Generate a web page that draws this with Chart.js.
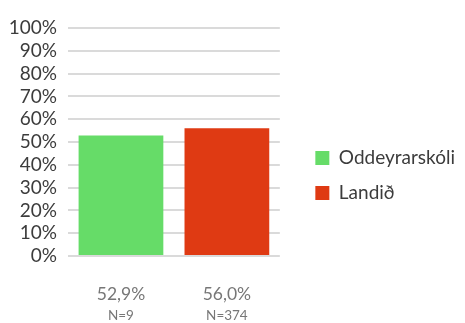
<!DOCTYPE html>
<html>
<head>
  <meta charset="utf-8">
  <title>Oddeyrarskóli</title>
  <script src="https://cdn.jsdelivr.net/npm/chart.js"></script>
  <style>
    html, body { margin: 0; padding: 0; background: #fff; }
    #wrap { width: 465px; height: 323px; position: relative; }
  </style>
</head>
<body>
  <div id="wrap"><canvas id="chart"></canvas></div>

  <script>
    const categories = ['Oddeyrarskóli', 'Landið'];
    const percentages = [52.9, 56.0];
    const counts = [9, 374];
    const colors = ['#66dc68', '#df3a13'];
    const yTicks = [0, 10, 20, 30, 40, 50, 60, 70, 80, 90, 100];

    const FONT = 'Lato, "Open Sans", sans-serif';

    // one dataset per group so the legend gets an entry for each
    const datasets = categories.map((name, i) => ({
      label: name,
      data: percentages.map((v, j) => (j === i ? v : null)),
      backgroundColor: colors[i],
      borderWidth: 0,
      skipNull: true,
      barPercentage: 0.8,
      categoryPercentage: 1.0
    }));

    const fmt = v => v.toFixed(1).replace('.', ',') + '%';

    new Chart(document.getElementById('chart'), {
      type: 'bar',
      data: { labels: categories, datasets: datasets },
      options: {
        responsive: true,
        maintainAspectRatio: false,
        animation: false,
        layout: { padding: { top: 28, left: 6, right: 0, bottom: 0 } },
        plugins: {
          tooltip: { enabled: false },
          legend: {
            position: 'right',
            maxWidth: 220,
            labels: {
              boxWidth: 14,
              boxHeight: 14,
              padding: 16,
              color: '#3c3c3c',
              font: { family: FONT, size: 19 }
            }
          }
        },
        scales: {
          y: {
            min: 0,
            max: 100,
            afterBuildTicks: s => { s.ticks = yTicks.map(v => ({ value: v })); },
            afterFit: s => { s.width = 62; },
            grid: { color: '#dadada', lineWidth: 2, drawTicks: false },
            border: { display: false },
            ticks: {
              autoSkip: false,
              padding: 11,
              color: '#3c3c3c',
              font: { family: FONT, size: 19 },
              callback: v => v + '%'
            }
          },
          // percentage under each bar
          x: {
            afterFit: s => { s.height = 48; },
            grid: { display: false, drawTicks: false },
            border: { display: false },
            ticks: {
              maxRotation: 0,
              padding: 28,
              color: '#777',
              font: { family: FONT, size: 17.5 },
              callback: (v, i) => fmt(percentages[i])
            }
          },
          // respondent count under the percentage
          x2: {
            type: 'category',
            position: 'bottom',
            weight: 1,
            labels: categories,
            afterFit: s => { s.height = 19; },
            grid: { display: false, drawTicks: false },
            border: { display: false },
            ticks: {
              maxRotation: 0,
              padding: 4,
              color: '#777',
              font: { family: FONT, size: 13.5 },
              callback: (v, i) => 'N=' + counts[i]
            }
          },
          // spacer between the plot and the legend
          gap: {
            type: 'linear',
            position: 'right',
            grid: { display: false, drawTicks: false },
            border: { display: false },
            ticks: { display: false },
            afterFit: s => { s.width = 19.5; }
          }
        }
      }
    });
  </script>
</body>
</html>
